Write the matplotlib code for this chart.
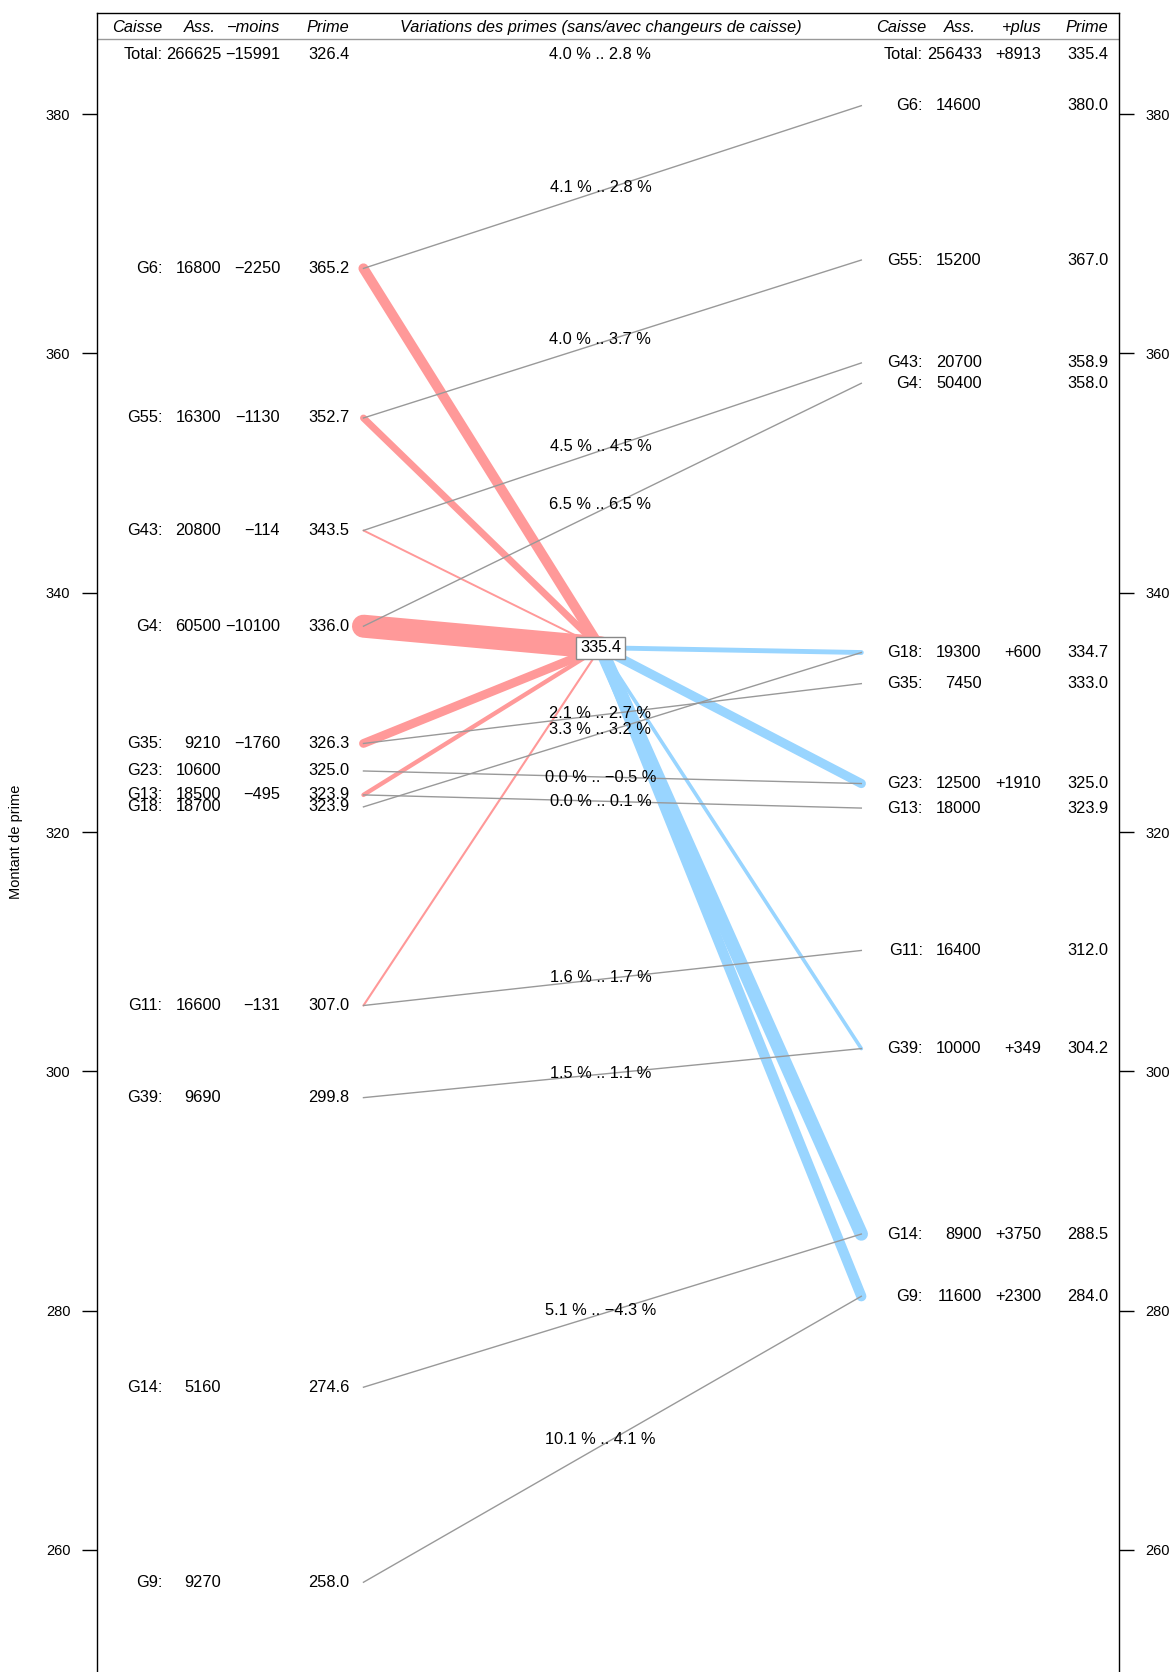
import matplotlib
matplotlib.use('Agg')
import matplotlib.pyplot as plt

plt.rcParams['font.family'] = ['Liberation Sans', 'DejaVu Sans']

# left side: situation "sans changeurs de caisse"
left_caisse = ['G6', 'G55', 'G43', 'G4', 'G35', 'G23', 'G13', 'G18', 'G11', 'G39', 'G14', 'G9']
left_ass = [16800, 16300, 20800, 60500, 9210, 10600, 18500, 18700, 16600, 9690, 5160, 9270]
left_moins = [2250, 1130, 114, 10100, 1760, 0, 495, 0, 131, 0, 0, 0]
left_prime = [365.2, 352.7, 343.5, 336.0, 326.3, 325.0, 323.9, 323.9, 307.0, 299.8, 274.6, 258.0]
# height at which each label / node sits (labels spread apart)
left_level = [367.1, 354.6, 345.2, 337.2, 327.4, 325.1, 323.1, 322.1, 305.5, 297.8, 273.6, 257.3]

# right side: situation "avec changeurs de caisse"
right_caisse = ['G6', 'G55', 'G43', 'G4', 'G18', 'G35', 'G23', 'G13', 'G11', 'G39', 'G14', 'G9']
right_ass = [14600, 15200, 20700, 50400, 19300, 7450, 12500, 18000, 16400, 10000, 8900, 11600]
right_plus = [0, 0, 0, 0, 600, 0, 1910, 0, 0, 349, 3750, 2300]
right_prime = [380.0, 367.0, 358.9, 358.0, 334.7, 333.0, 325.0, 323.9, 312.0, 304.2, 288.5, 284.0]
right_level = [380.7, 367.8, 359.2, 357.5, 335.0, 332.4, 324.05, 322.0, 310.1, 301.9, 286.4, 281.2]

# variations sans / avec (left order)
pct_sans = [4.1, 4.0, 4.5, 6.5, 2.1, 0.0, 0.0, 3.3, 1.6, 1.5, 5.1, 10.1]
pct_avec = [2.8, 3.7, 4.5, 6.5, 2.7, -0.5, 0.1, 3.2, 1.7, 1.1, -4.3, 4.1]

total_left = (266625, 15991, 326.4)
total_right = (256433, 8913, 335.4)
total_pct = (4.0, 2.8)

RED = '#FF9999'
BLUE = '#99D5FF'
GREY = '#999999'
FS = 11.8

def fmt(v, nd=1):
    return f'{v:.{nd}f}'.replace('-', '\u2212')

def width(n):
    return 0.72 * 23 * (n / 10100) ** 0.55

fig = plt.figure(figsize=(11.73, 16.72), dpi=100)
ax = fig.add_axes([0.0824, 0.0, 0.8715, 0.9924])
ax.set_xlim(0, 1)
ax.set_ylim(249.8, 388.47)
ax.spines['bottom'].set_visible(False)
for s in ['left', 'right', 'top']:
    ax.spines[s].set_linewidth(1.0)
ax.set_xticks([])
ax.set_yticks(range(260, 381, 20))
ax.tick_params(axis='y', direction='out', length=10.5, width=1.0, pad=8.5,
               labelsize=10.5, left=True, right=True, labelleft=True, labelright=True)
fig.text(16 / 1173, 1 - 842 / 1672, 'Montant de prime', rotation=90,
         ha='center', va='center', fontsize=10.5)

xl, xm, xr = 0.261, 0.4928, 0.748
cl = [0.0642, 0.1218, 0.1795, 0.2470]
cr = [0.8083, 0.8657, 0.9241, 0.9898]
y_head, y_line, y_tot = 387.2, 386.25, 384.95
center_y = total_right[2]

# header
ax.axhline(y_line, color=GREY, lw=1.0)
hk = dict(fontsize=FS, style='italic', va='center', ha='right')
ax.text(cl[0], y_head, 'Caisse', **hk)
ax.text(cl[1] - 0.005, y_head, 'Ass.', **hk)
ax.text(cl[2], y_head, '\u2212moins', **hk)
ax.text(cl[3], y_head, 'Prime', **hk)
ax.text(xm, y_head, 'Variations des primes (sans/avec changeurs de caisse)',
        fontsize=FS, style='italic', va='center', ha='center')
ax.text(cr[0] + 0.003, y_head, 'Caisse', **hk)
ax.text(cr[1] - 0.006, y_head, 'Ass.', **hk)
ax.text(cr[2], y_head, '+plus', **hk)
ax.text(cr[3], y_head, 'Prime', **hk)

tk = dict(fontsize=FS, va='center', ha='right')
ax.text(cl[0], y_tot, 'Total:', **tk)
ax.text(cl[1], y_tot, str(total_left[0]), **tk)
ax.text(cl[2], y_tot, '\u2212' + str(total_left[1]), **tk)
ax.text(cl[3], y_tot, fmt(total_left[2]), **tk)
ax.text(xm, y_tot, f'{fmt(total_pct[0])} % .. {fmt(total_pct[1])} %',
        fontsize=FS, va='center', ha='center')
ax.text(cr[0], y_tot, 'Total:', **tk)
ax.text(cr[1], y_tot, str(total_right[0]), **tk)
ax.text(cr[2], y_tot, '+' + str(total_right[1]), **tk)
ax.text(cr[3], y_tot, fmt(total_right[2]), **tk)

# flows leaving (red) and arriving (blue)
for lvl, m in sorted(zip(left_level, left_moins), key=lambda t: -t[1]):
    if m > 0:
        ax.plot([xl, xm], [lvl, center_y], color=RED, lw=width(m),
                solid_capstyle='round', zorder=2)
for lvl, p in sorted(zip(right_level, right_plus), key=lambda t: -t[1]):
    if p > 0:
        ax.plot([xm, xr], [center_y, lvl], color=BLUE, lw=width(p),
                solid_capstyle='round', zorder=2)

# rows
rlev = dict(zip(right_caisse, right_level))
for i, name in enumerate(left_caisse):
    y = left_level[i]
    ax.text(cl[0], y, name + ':', **tk)
    ax.text(cl[1], y, str(left_ass[i]), **tk)
    if left_moins[i]:
        ax.text(cl[2], y, '\u2212' + str(left_moins[i]), **tk)
    ax.text(cl[3], y, fmt(left_prime[i]), **tk)
    ax.plot([xl, xr], [y, rlev[name]], color=GREY, lw=1.0, zorder=3)
    ax.text(xm, (y + rlev[name]) / 2, f'{fmt(pct_sans[i])} % .. {fmt(pct_avec[i])} %',
            fontsize=FS, va='center', ha='center', zorder=4)

for i, name in enumerate(right_caisse):
    y = right_level[i]
    ax.text(cr[0], y, name + ':', **tk)
    ax.text(cr[1], y, str(right_ass[i]), **tk)
    if right_plus[i]:
        ax.text(cr[2], y, '+' + str(right_plus[i]), **tk)
    ax.text(cr[3], y, fmt(right_prime[i]), **tk)

ax.text(xm, center_y, fmt(center_y), fontsize=FS, va='center', ha='center', zorder=6,
        bbox=dict(boxstyle='square,pad=0.22', fc='white', ec='#888888', lw=1.0))

fig.savefig('out.png', dpi=100)
